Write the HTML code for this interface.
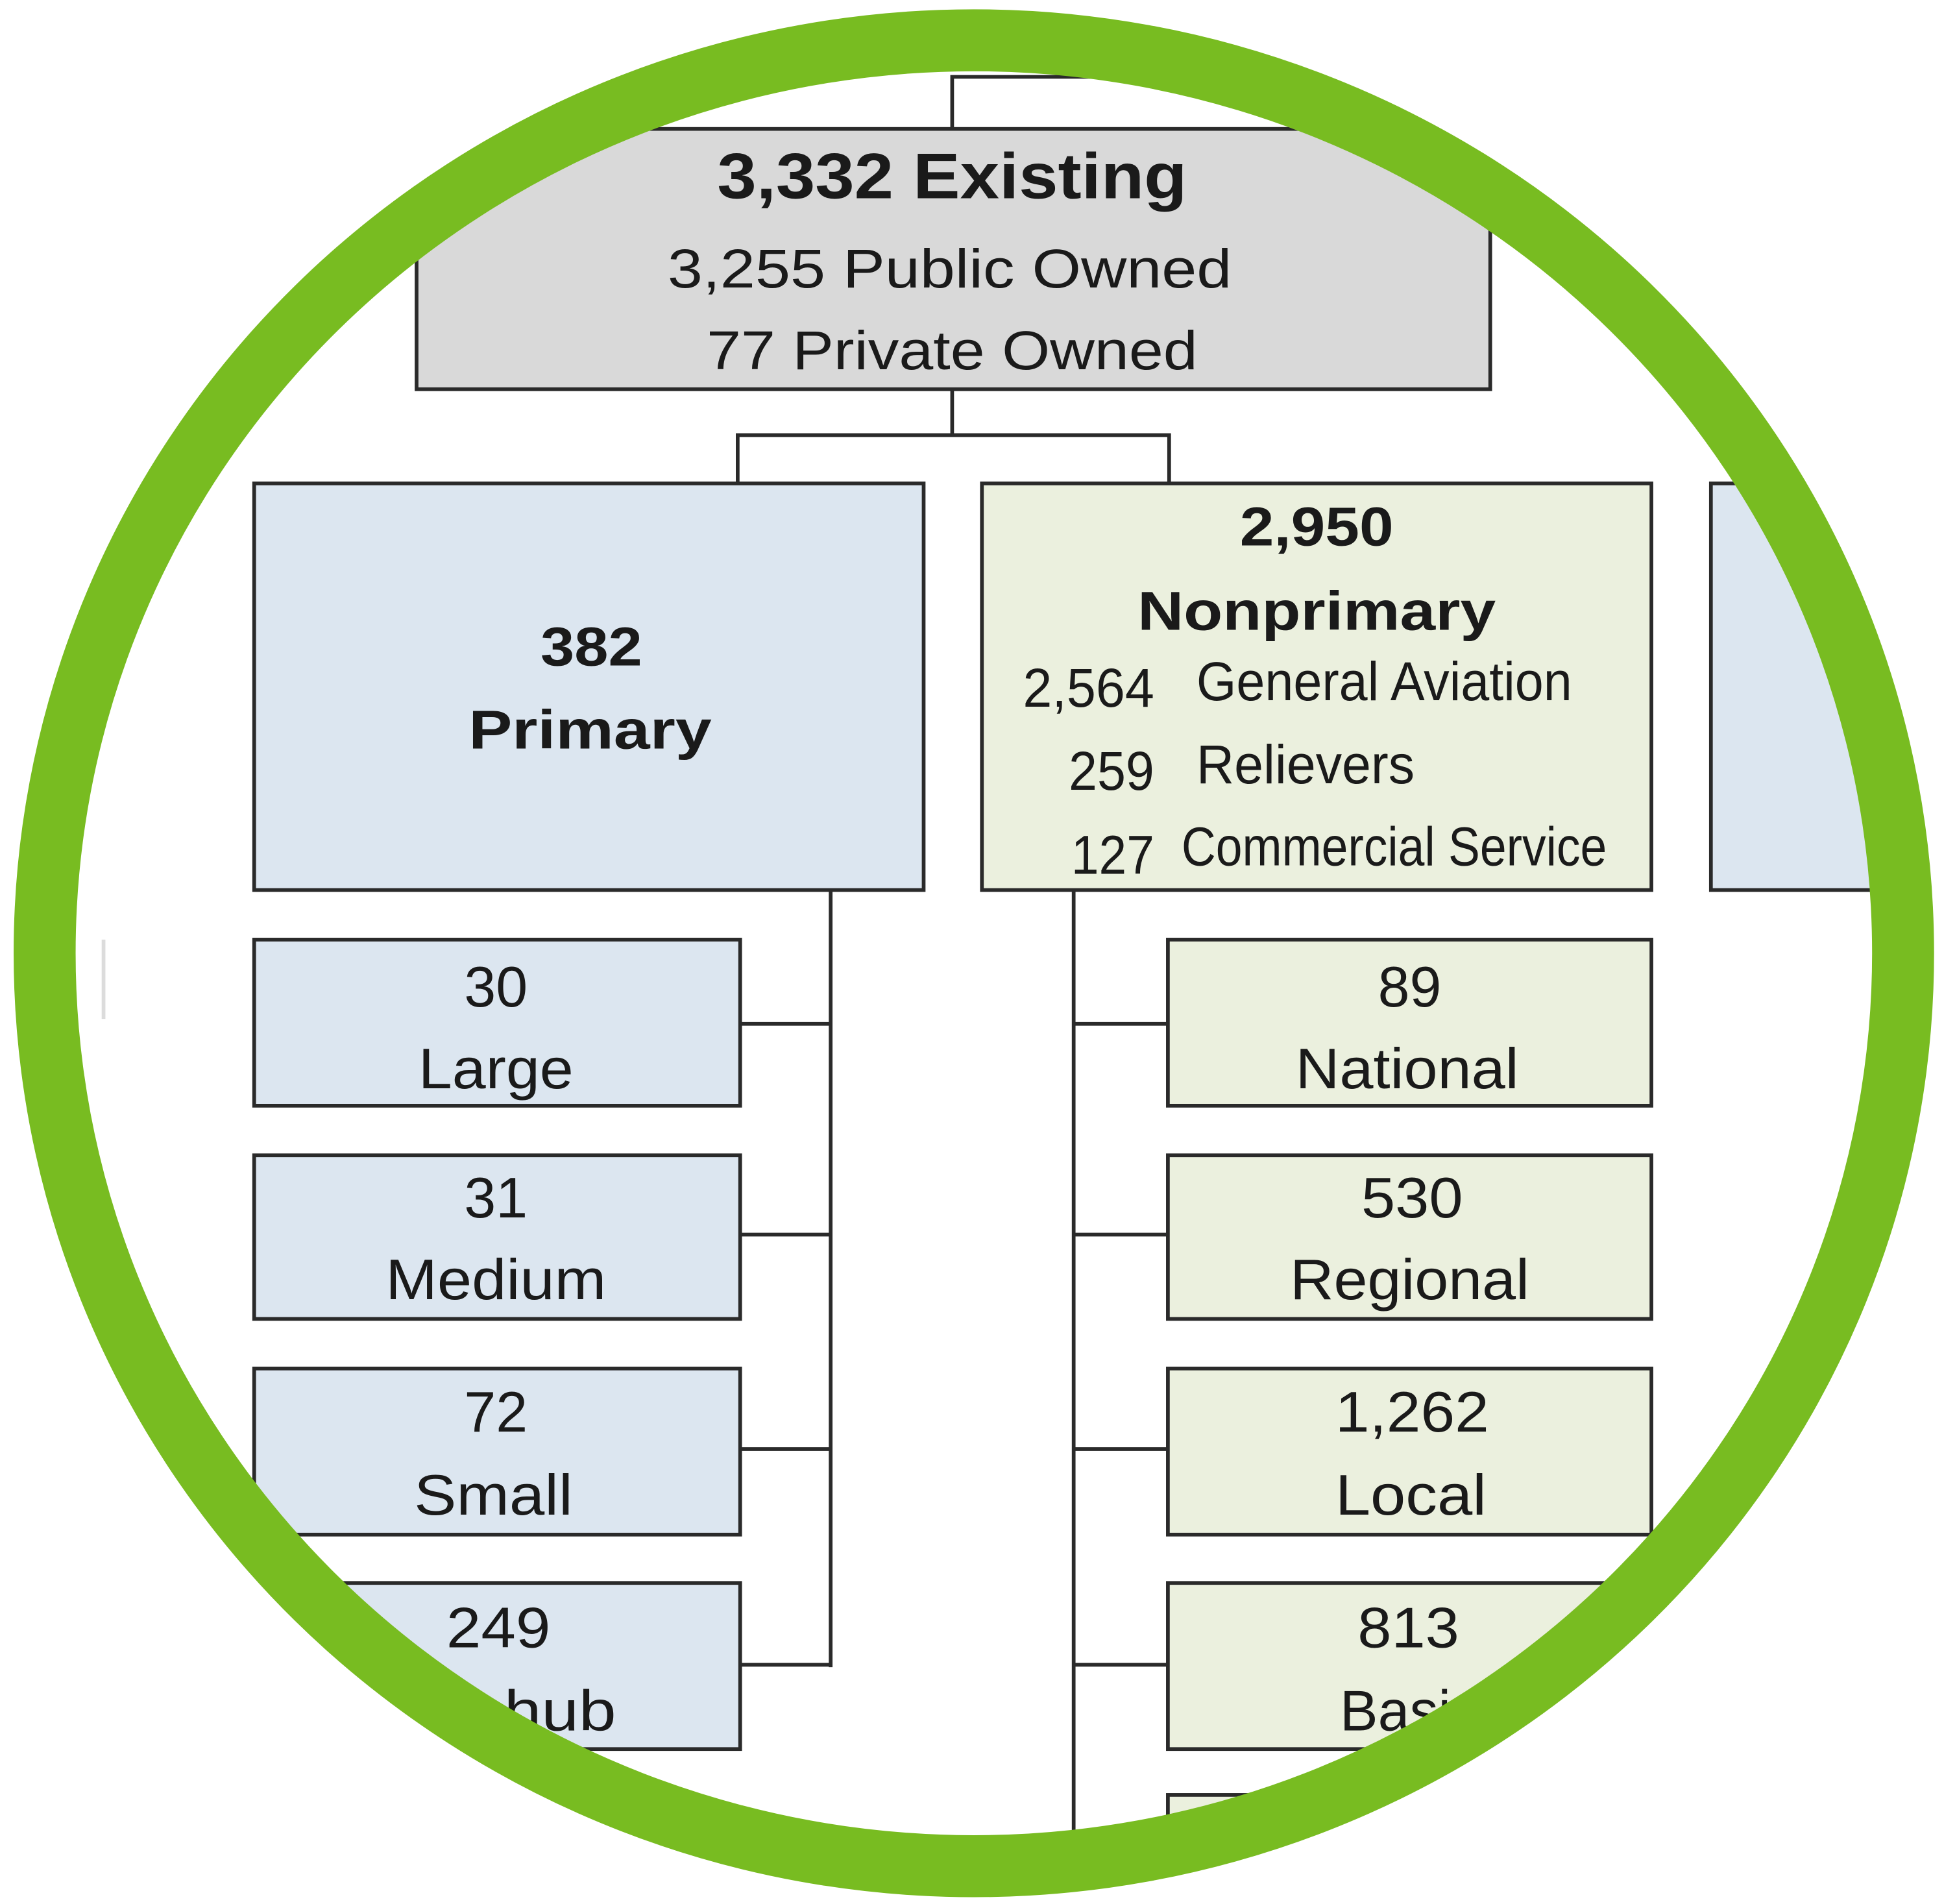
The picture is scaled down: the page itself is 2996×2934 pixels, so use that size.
<!DOCTYPE html>
<html><head><meta charset="utf-8"><style>
html,body{margin:0;padding:0;background:#fff;}
svg{display:block;}
text{font-family:"Liberation Sans",Arial,sans-serif;fill:#1a1a1a;}
</style></head><body>
<svg width="2996" height="2934" viewBox="0 0 1568 1536" preserveAspectRatio="none" xmlns="http://www.w3.org/2000/svg">
<defs><clipPath id="c"><ellipse cx="785.5" cy="769" rx="726" ry="712"/></clipPath></defs>
<rect width="1568" height="1536" fill="#fff"/>
<g clip-path="url(#c)" stroke="#2a2a2a" stroke-width="3">
<rect x="82" y="758" width="3" height="64" fill="#dcdcdc" stroke="none"/>
<polyline points="768,104 768,62 1000,62" fill="none"/>
<rect x="336" y="104" width="866" height="210" fill="#d9d9d9"/>
<polyline points="768,314 768,351" fill="none"/>
<polyline points="595,392 595,351 943,351 943,392" fill="none"/>
<rect x="205" y="390" width="540" height="328" fill="#dce6f0"/>
<rect x="792" y="390" width="540" height="328" fill="#ebf0de"/>
<rect x="1380" y="390" width="300" height="328" fill="#dce6f0"/>
<line x1="670" y1="718" x2="670" y2="1345"/>
<line x1="866" y1="718" x2="866" y2="1540"/>
<g fill="#dce6f0">
<rect x="205" y="758" width="392" height="134"/>
<rect x="205" y="932" width="392" height="132"/>
<rect x="205" y="1104" width="392" height="134"/>
<rect x="205" y="1277" width="392" height="134"/>
</g>
<g fill="#ebf0de">
<rect x="942" y="758" width="390" height="134"/>
<rect x="942" y="932" width="390" height="132"/>
<rect x="942" y="1104" width="390" height="134"/>
<rect x="942" y="1277" width="390" height="134"/>
<rect x="942" y="1448" width="390" height="134"/>
</g>
<line x1="597" y1="826" x2="670" y2="826"/>
<line x1="597" y1="996" x2="670" y2="996"/>
<line x1="597" y1="1169" x2="670" y2="1169"/>
<line x1="597" y1="1343" x2="670" y2="1343"/>
<line x1="866" y1="826" x2="942" y2="826"/>
<line x1="866" y1="996" x2="942" y2="996"/>
<line x1="866" y1="1169" x2="942" y2="1169"/>
<line x1="866" y1="1343" x2="942" y2="1343"/>
<g stroke="none" text-anchor="middle" lengthAdjust="spacingAndGlyphs">
<text x="768" y="160" font-size="52" font-weight="bold" textLength="379" lengthAdjust="spacingAndGlyphs">3,332 Existing</text>
<text x="766" y="232" font-size="44" textLength="455" lengthAdjust="spacingAndGlyphs">3,255 Public Owned</text>
<text x="768" y="298" font-size="44" textLength="396" lengthAdjust="spacingAndGlyphs">77 Private Owned</text>
<text x="477" y="537" font-size="44" font-weight="bold" textLength="82" lengthAdjust="spacingAndGlyphs">382</text>
<text x="476" y="604" font-size="44" font-weight="bold" textLength="196" lengthAdjust="spacingAndGlyphs">Primary</text>
<text x="1062" y="440" font-size="44" font-weight="bold" textLength="124" lengthAdjust="spacingAndGlyphs">2,950</text>
<text x="1062" y="508" font-size="44" font-weight="bold" textLength="289" lengthAdjust="spacingAndGlyphs">Nonprimary</text>
<text x="400" y="812" font-size="46">30</text><text x="400" y="878" font-size="46" textLength="125" lengthAdjust="spacingAndGlyphs">Large</text>
<text x="400" y="982" font-size="46">31</text><text x="400" y="1048" font-size="46" textLength="178" lengthAdjust="spacingAndGlyphs">Medium</text>
<text x="400" y="1155" font-size="46">72</text><text x="398" y="1222" font-size="46" textLength="128" lengthAdjust="spacingAndGlyphs">Small</text>
<text x="402" y="1329" font-size="46" textLength="84" lengthAdjust="spacingAndGlyphs">249</text><text x="402" y="1396" font-size="46" textLength="190" lengthAdjust="spacingAndGlyphs">Nonhub</text>
<text x="1137" y="812" font-size="46">89</text><text x="1135" y="878" font-size="46" textLength="180" lengthAdjust="spacingAndGlyphs">National</text>
<text x="1139" y="982" font-size="46" textLength="82" lengthAdjust="spacingAndGlyphs">530</text><text x="1137" y="1048" font-size="46" textLength="193" lengthAdjust="spacingAndGlyphs">Regional</text>
<text x="1139" y="1155" font-size="46" textLength="124" lengthAdjust="spacingAndGlyphs">1,262</text><text x="1138" y="1222" font-size="46" textLength="122" lengthAdjust="spacingAndGlyphs">Local</text>
<text x="1136" y="1329" font-size="46" textLength="82" lengthAdjust="spacingAndGlyphs">813</text><text x="1137" y="1396" font-size="46">Basic</text>
</g>
<g stroke="none" font-size="44">
<text x="825" y="570" textLength="106" lengthAdjust="spacingAndGlyphs">2,564</text>
<text x="965" y="565" textLength="303" lengthAdjust="spacingAndGlyphs">General Aviation</text>
<text x="862" y="637" textLength="69" lengthAdjust="spacingAndGlyphs">259</text>
<text x="965" y="632" textLength="176" lengthAdjust="spacingAndGlyphs">Relievers</text>
<text x="864" y="705" textLength="67" lengthAdjust="spacingAndGlyphs">127</text>
<text x="953" y="698" textLength="343" lengthAdjust="spacingAndGlyphs">Commercial Service</text>
</g>
</g>
<ellipse cx="785.5" cy="769" rx="749.5" ry="736.5" fill="none" stroke="#78bc21" stroke-width="50"/>
</svg>
</body></html>
